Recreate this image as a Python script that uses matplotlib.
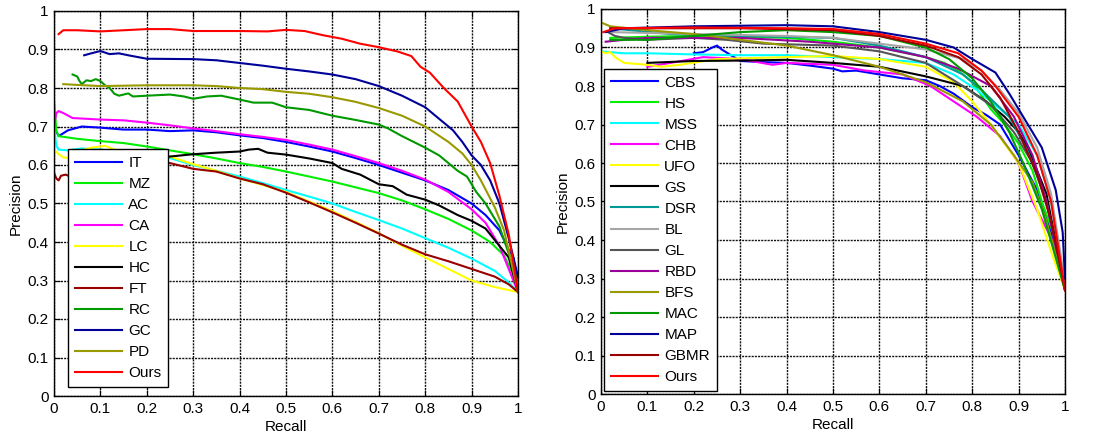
import matplotlib
matplotlib.use("Agg")
import matplotlib.pyplot as plt
from matplotlib.ticker import FixedLocator, FixedFormatter

plt.rcParams['font.family'] = ['Liberation Sans', 'DejaVu Sans']

# ---------------- Left panel data ----------------
IT_R = [0, 0.01, 0.03, 0.06, 0.1, 0.15, 0.2, 0.25, 0.3, 0.35, 0.4, 0.45, 0.5, 0.55, 0.6, 0.65, 0.7, 0.75, 0.8, 0.85, 0.9, 0.93, 0.96, 0.98, 0.99, 1.0]
IT_P = [0.70, 0.675, 0.69, 0.70, 0.697, 0.692, 0.692, 0.688, 0.69, 0.685, 0.677, 0.67, 0.66, 0.648, 0.635, 0.618, 0.60, 0.58, 0.56, 0.535, 0.50, 0.47, 0.43, 0.38, 0.36, 0.28]

MZ_R = [0, 0.005, 0.01, 0.05, 0.1, 0.15, 0.2, 0.25, 0.3, 0.35, 0.4, 0.45, 0.5, 0.55, 0.6, 0.65, 0.7, 0.75, 0.8, 0.85, 0.9, 0.94, 0.97, 1.0]
MZ_P = [0.77, 0.69, 0.675, 0.668, 0.662, 0.657, 0.648, 0.638, 0.628, 0.617, 0.605, 0.595, 0.583, 0.57, 0.557, 0.542, 0.527, 0.508, 0.485, 0.46, 0.43, 0.40, 0.365, 0.29]

AC_R = [0, 0.005, 0.01, 0.03, 0.06, 0.1, 0.15, 0.2, 0.25, 0.3, 0.35, 0.4, 0.45, 0.5, 0.55, 0.6, 0.65, 0.7, 0.75, 0.8, 0.85, 0.9, 0.95, 0.98, 1.0]
AC_P = [0.70, 0.65, 0.64, 0.638, 0.643, 0.64, 0.635, 0.628, 0.618, 0.60, 0.585, 0.57, 0.553, 0.535, 0.518, 0.50, 0.478, 0.457, 0.435, 0.41, 0.385, 0.357, 0.325, 0.295, 0.27]

CA_R = [0, 0.005, 0.01, 0.02, 0.04, 0.1, 0.15, 0.2, 0.25, 0.3, 0.35, 0.4, 0.45, 0.5, 0.55, 0.6, 0.65, 0.7, 0.75, 0.8, 0.85, 0.9, 0.93, 0.96, 0.98, 1.0]
CA_P = [0.70, 0.735, 0.74, 0.735, 0.722, 0.718, 0.716, 0.71, 0.703, 0.695, 0.688, 0.68, 0.673, 0.665, 0.653, 0.64, 0.623, 0.605, 0.585, 0.562, 0.53, 0.485, 0.45, 0.39, 0.33, 0.27]

LC_R = [0, 0.01, 0.02, 0.03, 0.05, 0.08, 0.1, 0.11, 0.13, 0.2, 0.25, 0.3, 0.35, 0.4, 0.45, 0.5, 0.55, 0.6, 0.65, 0.7, 0.75, 0.8, 0.85, 0.9, 0.95, 1.0]
LC_P = [0.64, 0.628, 0.62, 0.618, 0.635, 0.645, 0.648, 0.65, 0.64, 0.63, 0.622, 0.602, 0.585, 0.565, 0.548, 0.53, 0.505, 0.48, 0.452, 0.423, 0.39, 0.36, 0.33, 0.30, 0.283, 0.27]

HC_R = [0.05, 0.15, 0.25, 0.3, 0.35, 0.4, 0.42, 0.44, 0.46, 0.5, 0.55, 0.6, 0.62, 0.66, 0.7, 0.73, 0.76, 0.8, 0.83, 0.87, 0.9, 0.93, 0.96, 0.98, 1.0]
HC_P = [0.60, 0.61, 0.622, 0.628, 0.632, 0.635, 0.64, 0.642, 0.632, 0.627, 0.617, 0.605, 0.59, 0.575, 0.55, 0.545, 0.523, 0.51, 0.495, 0.47, 0.455, 0.435, 0.39, 0.36, 0.27]

FT_R = [0, 0.005, 0.01, 0.015, 0.025, 0.035, 0.1, 0.2, 0.25, 0.3, 0.35, 0.4, 0.45, 0.5, 0.55, 0.6, 0.65, 0.7, 0.75, 0.8, 0.85, 0.9, 0.95, 0.98, 1.0]
FT_P = [0.58, 0.565, 0.56, 0.572, 0.575, 0.57, 0.59, 0.605, 0.605, 0.59, 0.583, 0.565, 0.55, 0.528, 0.503, 0.477, 0.45, 0.422, 0.393, 0.368, 0.35, 0.33, 0.31, 0.29, 0.27]

RC_R = [0.04, 0.05, 0.055, 0.06, 0.07, 0.08, 0.09, 0.1, 0.11, 0.12, 0.13, 0.14, 0.16, 0.17, 0.2, 0.25, 0.28, 0.3, 0.33, 0.36, 0.4, 0.43, 0.47, 0.5, 0.55, 0.6, 0.65, 0.7, 0.72, 0.75, 0.8, 0.83, 0.85, 0.87, 0.89, 0.91, 0.93, 0.96, 0.98, 1.0]
RC_P = [0.835, 0.83, 0.818, 0.81, 0.82, 0.818, 0.823, 0.818, 0.807, 0.80, 0.785, 0.78, 0.786, 0.778, 0.78, 0.783, 0.778, 0.772, 0.778, 0.78, 0.77, 0.762, 0.762, 0.75, 0.743, 0.728, 0.717, 0.705, 0.695, 0.675, 0.645, 0.625, 0.605, 0.585, 0.57, 0.53, 0.50, 0.44, 0.37, 0.30]

GC_R = [0.065, 0.08, 0.1, 0.12, 0.14, 0.16, 0.2, 0.3, 0.35, 0.4, 0.45, 0.5, 0.55, 0.6, 0.65, 0.7, 0.75, 0.8, 0.83, 0.86, 0.88, 0.9, 0.92, 0.94, 0.96, 0.98, 1.0]
GC_P = [0.885, 0.89, 0.896, 0.888, 0.89, 0.885, 0.876, 0.875, 0.872, 0.865, 0.858, 0.85, 0.843, 0.835, 0.823, 0.805, 0.78, 0.75, 0.72, 0.69, 0.66, 0.625, 0.60, 0.56, 0.50, 0.41, 0.31]

PD_R = [0.02, 0.05, 0.1, 0.2, 0.3, 0.35, 0.4, 0.45, 0.5, 0.55, 0.6, 0.65, 0.7, 0.75, 0.8, 0.85, 0.88, 0.9, 0.92, 0.95, 0.97, 1.0]
PD_P = [0.81, 0.808, 0.805, 0.807, 0.807, 0.805, 0.80, 0.797, 0.79, 0.785, 0.776, 0.764, 0.748, 0.728, 0.70, 0.66, 0.63, 0.60, 0.56, 0.49, 0.43, 0.27]

OURS1_R = [0.01, 0.02, 0.05, 0.1, 0.15, 0.2, 0.25, 0.3, 0.4, 0.46, 0.5, 0.54, 0.58, 0.62, 0.66, 0.7, 0.74, 0.77, 0.79, 0.81, 0.84, 0.87, 0.9, 0.92, 0.94, 0.96, 0.98, 1.0]
OURS1_P = [0.94, 0.95, 0.95, 0.947, 0.95, 0.953, 0.953, 0.948, 0.948, 0.947, 0.951, 0.948, 0.937, 0.928, 0.915, 0.906, 0.895, 0.883, 0.855, 0.84, 0.80, 0.765, 0.70, 0.66, 0.605, 0.52, 0.42, 0.27]

LEFT_NAMES = ['IT', 'MZ', 'AC', 'CA', 'LC', 'HC', 'FT', 'RC', 'GC', 'PD', 'Ours']
LEFT_COLORS = ['#0000ff', '#00ee00', '#00ffff', '#ff00ff', '#ffff00', '#000000', '#990000', '#009900', '#000099', '#999900', '#ff0000']
LEFT_DATA = [(IT_R, IT_P), (MZ_R, MZ_P), (AC_R, AC_P), (CA_R, CA_P), (LC_R, LC_P), (HC_R, HC_P),
             (FT_R, FT_P), (RC_R, RC_P), (GC_R, GC_P), (PD_R, PD_P), (OURS1_R, OURS1_P)]

# ---------------- Right panel data ----------------
CBS_R = [0.2, 0.22, 0.24, 0.25, 0.26, 0.28, 0.3, 0.35, 0.4, 0.45, 0.5, 0.52, 0.55, 0.6, 0.65, 0.7, 0.73, 0.76, 0.8, 0.83, 0.86, 0.9, 0.94, 0.97, 1.0]
CBS_P = [0.885, 0.888, 0.90, 0.905, 0.895, 0.88, 0.865, 0.862, 0.86, 0.853, 0.845, 0.838, 0.84, 0.83, 0.82, 0.815, 0.80, 0.78, 0.745, 0.725, 0.70, 0.62, 0.53, 0.42, 0.27]

HS_R = [0.02, 0.1, 0.2, 0.3, 0.4, 0.5, 0.6, 0.7, 0.74, 0.77, 0.8, 0.84, 0.87, 0.9, 0.93, 0.95, 0.98, 1.0]
HS_P = [0.925, 0.928, 0.93, 0.928, 0.925, 0.915, 0.90, 0.875, 0.86, 0.84, 0.81, 0.74, 0.70, 0.65, 0.58, 0.50, 0.40, 0.27]

MSS_R = [0, 0.05, 0.1, 0.2, 0.3, 0.4, 0.5, 0.6, 0.7, 0.76, 0.81, 0.85, 0.9, 0.94, 0.97, 1.0]
MSS_P = [0.89, 0.885, 0.885, 0.882, 0.88, 0.88, 0.875, 0.87, 0.86, 0.83, 0.79, 0.75, 0.70, 0.62, 0.50, 0.27]

CHB_R = [0.1, 0.15, 0.22, 0.3, 0.37, 0.4, 0.5, 0.57, 0.65, 0.71, 0.76, 0.81, 0.86, 0.9, 0.93, 0.96, 0.98, 1.0]
CHB_P = [0.85, 0.86, 0.875, 0.87, 0.855, 0.86, 0.855, 0.84, 0.83, 0.80, 0.76, 0.72, 0.67, 0.60, 0.50, 0.43, 0.38, 0.27]

UFO_R = [0, 0.01, 0.02, 0.03, 0.05, 0.1, 0.13, 0.17, 0.25, 0.4, 0.5, 0.6, 0.7, 0.76, 0.8, 0.84, 0.87, 0.9, 0.94, 0.97, 1.0]
UFO_P = [0.89, 0.885, 0.888, 0.875, 0.86, 0.855, 0.85, 0.855, 0.87, 0.875, 0.878, 0.87, 0.85, 0.81, 0.76, 0.70, 0.65, 0.60, 0.48, 0.37, 0.27]

GS_R = [0.1, 0.2, 0.3, 0.4, 0.5, 0.6, 0.7, 0.78, 0.83, 0.87, 0.9, 0.92, 0.96, 1.0]
GS_P = [0.86, 0.865, 0.866, 0.868, 0.86, 0.85, 0.825, 0.80, 0.76, 0.72, 0.68, 0.64, 0.52, 0.27]

DSR_R = [0.02, 0.15, 0.3, 0.5, 0.6, 0.7, 0.78, 0.82, 0.88, 0.92, 0.96, 1.0]
DSR_P = [0.95, 0.935, 0.93, 0.925, 0.905, 0.875, 0.83, 0.79, 0.72, 0.63, 0.50, 0.27]

BL_R = [0.02, 0.2, 0.4, 0.5, 0.6, 0.7, 0.78, 0.82, 0.86, 0.9, 0.94, 0.97, 1.0]
BL_P = [0.94, 0.935, 0.93, 0.925, 0.91, 0.895, 0.87, 0.84, 0.79, 0.73, 0.64, 0.52, 0.29]

GL_R = [0.015, 0.03, 0.05, 0.1, 0.2, 0.27, 0.35, 0.5, 0.6, 0.7, 0.78, 0.84, 0.89, 0.93, 0.96, 1.0]
GL_P = [0.94, 0.93, 0.925, 0.92, 0.925, 0.92, 0.91, 0.905, 0.89, 0.86, 0.80, 0.75, 0.68, 0.60, 0.50, 0.27]

RBD_R = [0.01, 0.05, 0.1, 0.3, 0.45, 0.6, 0.7, 0.77, 0.84, 0.89, 0.93, 0.96, 1.0]
RBD_P = [0.915, 0.92, 0.925, 0.925, 0.915, 0.90, 0.875, 0.845, 0.80, 0.72, 0.62, 0.50, 0.27]

BFS_R = [0, 0.02, 0.1, 0.2, 0.3, 0.4, 0.5, 0.6, 0.7, 0.78, 0.84, 0.89, 0.93, 0.96, 1.0]
BFS_P = [0.965, 0.955, 0.945, 0.935, 0.92, 0.905, 0.88, 0.85, 0.81, 0.76, 0.70, 0.62, 0.55, 0.45, 0.27]

MAC_R = [0.02, 0.1, 0.2, 0.3, 0.4, 0.5, 0.6, 0.7, 0.75, 0.8, 0.84, 0.88, 0.91, 0.95, 1.0]
MAC_P = [0.92, 0.92, 0.93, 0.94, 0.945, 0.94, 0.93, 0.90, 0.87, 0.82, 0.76, 0.68, 0.60, 0.48, 0.27]

MAP_R = [0.01, 0.05, 0.2, 0.4, 0.5, 0.6, 0.7, 0.76, 0.8, 0.85, 0.88, 0.92, 0.95, 0.98, 0.995, 1.0]
MAP_P = [0.94, 0.95, 0.955, 0.958, 0.955, 0.94, 0.92, 0.90, 0.87, 0.835, 0.78, 0.70, 0.64, 0.53, 0.42, 0.30]

GBMR_R = [0.02, 0.3, 0.5, 0.6, 0.7, 0.77, 0.82, 0.86, 0.9, 0.94, 0.97, 1.0]
GBMR_P = [0.95, 0.95, 0.945, 0.93, 0.905, 0.875, 0.83, 0.77, 0.68, 0.57, 0.45, 0.27]

OURS2_R = [0.005, 0.03, 0.2, 0.4, 0.5, 0.6, 0.7, 0.77, 0.82, 0.85, 0.9, 0.94, 0.97, 1.0]
OURS2_P = [0.94, 0.95, 0.952, 0.95, 0.948, 0.935, 0.91, 0.885, 0.84, 0.80, 0.72, 0.62, 0.50, 0.27]

RIGHT_NAMES = ['CBS', 'HS', 'MSS', 'CHB', 'UFO', 'GS', 'DSR', 'BL', 'GL', 'RBD', 'BFS', 'MAC', 'MAP', 'GBMR', 'Ours']
RIGHT_COLORS = ['#0000ff', '#00ee00', '#00ffff', '#ff00ff', '#ffff00', '#000000', '#009999', '#a6a6a6',
                '#555555', '#990099', '#999900', '#009900', '#000099', '#990000', '#ff0000']
RIGHT_DATA = [(CBS_R, CBS_P), (HS_R, HS_P), (MSS_R, MSS_P), (CHB_R, CHB_P), (UFO_R, UFO_P), (GS_R, GS_P),
              (DSR_R, DSR_P), (BL_R, BL_P), (GL_R, GL_P), (RBD_R, RBD_P), (BFS_R, BFS_P), (MAC_R, MAC_P),
              (MAP_R, MAP_P), (GBMR_R, GBMR_P), (OURS2_R, OURS2_P)]

TICKS = [0, 0.1, 0.2, 0.3, 0.4, 0.5, 0.6, 0.7, 0.8, 0.9, 1.0]
TICK_LABELS = ['0', '0.1', '0.2', '0.3', '0.4', '0.5', '0.6', '0.7', '0.8', '0.9', '1']

FS = 11

fig = plt.figure(figsize=(11, 4.4), dpi=100)
ax1 = fig.add_axes([54 / 1100, 44 / 440, 464 / 1100, 385 / 440])
ax2 = fig.add_axes([601 / 1100, 46 / 440, 464 / 1100, 385 / 440])


def style(ax):
    ax.set_xlim(0, 1)
    ax.set_ylim(0, 1)
    for a in (ax.xaxis, ax.yaxis):
        a.set_major_locator(FixedLocator(TICKS))
        a.set_major_formatter(FixedFormatter(TICK_LABELS))
    ax.tick_params(direction='in', top=True, right=True, labelsize=FS, length=4, width=0.8, pad=4)
    ax.grid(True, color='#111111', linestyle=(0, (1.5, 0.8)), linewidth=1.0)
    for s in ax.spines.values():
        s.set_linewidth(1.0)
        s.set_color('black')
    ax.set_xlabel('Recall', fontsize=FS, labelpad=3)
    ax.set_ylabel('Precision', fontsize=FS, labelpad=3)
    ax.set_axisbelow(True)


def draw(ax, names, colors, data, anchor):
    for name, c, (r, p) in zip(names, colors, data):
        ax.plot(r, p, color=c, linewidth=1.5, label=name)
    leg = ax.legend(loc='lower left', bbox_to_anchor=anchor, borderaxespad=0, fontsize=FS,
                    handlelength=3.1, handletextpad=0.4, labelspacing=0.46, borderpad=0.45,
                    fancybox=False, framealpha=1, edgecolor='black')
    leg.get_frame().set_linewidth(1.0)


style(ax1)
style(ax2)
draw(ax1, LEFT_NAMES, LEFT_COLORS, LEFT_DATA, (0.030, 0.023))
draw(ax2, RIGHT_NAMES, RIGHT_COLORS, RIGHT_DATA, (0.0065, 0.008))

fig.savefig('out.png', dpi=100)
